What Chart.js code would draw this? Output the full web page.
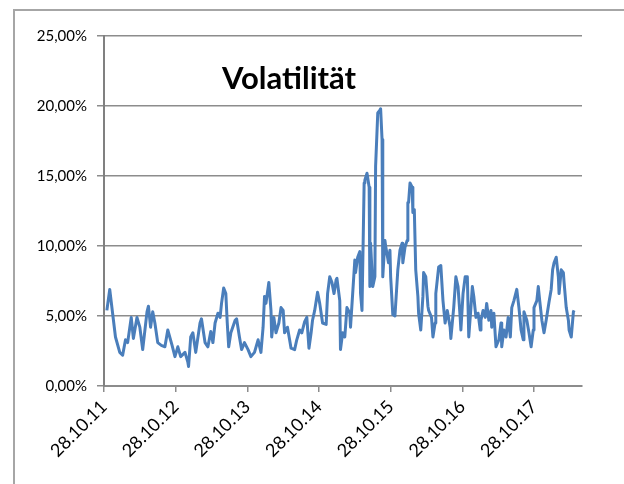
<!DOCTYPE html>
<html>
<head>
<meta charset="utf-8">
<script src="https://cdn.jsdelivr.net/npm/chart.js@4/dist/chart.umd.min.js"></script>
<style>
html,body{margin:0;padding:0;background:#fff;}
#wrap{position:relative;width:624px;height:484px;overflow:hidden;}
#frame{position:absolute;left:13px;top:9px;width:800px;height:800px;border:2px solid #a6a6a6;box-sizing:border-box;}
canvas{position:absolute;left:0;top:0;}
</style>
</head>
<body>
<div id="wrap">
<div id="frame"></div>
<canvas id="c" width="624" height="484"></canvas>
</div>
<script>
// Years since 28.10.2011
const years = [0.04,0.08,0.12,0.16,0.22,0.26,0.30,0.33,0.38,0.41,0.46,0.50,0.54,0.60,0.62,0.65,0.68,0.71,0.75,0.80,0.85,0.89,0.95,0.99,
1.03,1.07,1.13,1.17,1.18,1.21,1.24,1.28,1.34,1.36,1.41,1.45,1.49,1.52,1.55,1.59,1.62,1.64,1.67,1.70,1.72,1.74,1.77,1.83,1.85,1.89,1.92,1.96,
2.01,2.05,2.10,2.15,2.19,2.22,2.24,2.26,2.30,2.33,2.34,2.37,2.40,2.44,2.47,2.50,2.52,2.56,2.59,2.61,2.66,2.69,2.73,2.76,2.80,2.83,2.86,2.89,2.91,2.94,2.98,
3.01,3.05,3.10,3.12,3.15,3.18,3.21,3.24,3.25,3.29,3.30,3.33,3.36,3.39,3.43,3.44,3.47,3.50,3.51,3.54,3.57,3.58,3.60,3.63,3.64,3.67,3.70,3.71,3.72,3.75,3.78,3.79,3.82,3.85,3.86,3.88,3.89,3.92,3.93,3.97,3.99,
4.00,4.03,4.06,4.10,4.13,4.16,4.17,4.20,4.23,4.24,4.25,4.27,4.30,4.31,4.33,4.35,4.38,4.39,4.42,4.45,4.46,4.49,4.52,4.53,4.57,4.59,4.62,4.63,4.67,4.70,4.73,4.76,4.79,4.83,4.84,4.88,4.91,4.94,4.97,4.98,
5.01,5.04,5.07,5.09,5.12,5.14,5.16,5.19,5.22,5.25,5.26,5.29,5.32,5.34,5.37,5.40,5.41,5.44,5.47,5.51,5.54,5.55,5.58,5.61,5.64,5.67,5.69,5.72,5.76,5.79,5.82,5.85,5.86,5.90,5.93,5.96,5.99,
6.00,6.04,6.06,6.08,6.11,6.14,6.17,6.21,6.24,6.26,6.28,6.31,6.34,6.35,6.38,6.41,6.42,6.45,6.48,6.49,6.52,6.55,6.56];
// Volatility in percent
const volatility = [5.4,6.9,5.2,3.5,2.4,2.2,3.3,3.1,4.9,3.4,4.9,4.2,2.6,5.3,5.7,4.2,5.3,4.5,3.1,2.9,2.8,4.0,2.9,2.1,
2.8,2.1,2.4,1.7,1.4,3.5,3.8,2.4,4.5,4.8,3.1,2.8,3.9,3.1,4.5,5.2,4.9,5.9,7.0,6.6,4.5,2.8,3.8,4.7,4.8,3.5,2.6,3.1,
2.6,2.1,2.4,3.3,2.4,4.2,6.4,5.9,7.4,5.4,3.5,4.9,3.8,4.5,5.6,5.4,3.8,4.2,3.3,2.7,2.6,3.3,4.0,3.8,4.6,4.9,2.7,3.8,4.7,5.4,6.7,
5.9,4.5,4.4,6.6,7.8,7.4,6.6,7.6,7.7,6.1,2.6,3.8,3.5,5.6,5.2,4.2,6.6,9.0,8.1,9.2,9.6,6.6,5.4,14.5,14.7,15.2,14.2,7.1,10.2,7.1,7.8,15.7,19.5,19.7,19.8,17.6,7.8,10.4,10.0,8.8,9.7,
7.8,5.1,5.0,8.3,9.7,10.2,8.8,9.9,10.4,13.1,13.1,14.5,14.2,12.4,12.6,8.3,6.4,5.2,4.0,6.4,8.1,7.8,5.7,5.4,4.9,3.5,4.5,6.6,8.5,8.6,6.1,4.5,5.4,4.2,3.4,5.6,7.8,7.1,4.9,4.0,
6.6,7.8,7.8,3.5,5.6,7.1,6.4,4.9,5.2,4.0,4.7,5.4,4.9,5.9,4.7,5.4,4.2,5.2,2.8,3.3,4.5,2.8,4.0,3.5,4.9,3.5,5.6,6.1,6.9,5.6,4.0,3.3,5.3,4.7,3.8,2.8,4.0,
5.6,6.1,7.1,6.1,4.7,3.8,4.7,6.0,6.9,8.3,8.8,9.2,7.8,6.6,8.3,8.1,7.4,5.6,4.7,4.0,3.5,5.3,5.4];
const xTickLabels = ['28.10.11','28.10.12','28.10.13','28.10.14','28.10.15','28.10.16','28.10.17'];
const yTicks = [0,5,10,15,20,25];
const chartTitle = 'Volatilität';

const points = years.map((t,i)=>({x:t,y:volatility[i]}));
const gridGray = '#8c8c8c';

const titlePlugin = {
  id:'innerTitle',
  afterDraw(chart){
    const ctx = chart.ctx;
    ctx.save();
    ctx.font = 'bold 31px Lato, "Open Sans", sans-serif';
    ctx.fillStyle = '#000';
    ctx.textAlign = 'center';
    ctx.textBaseline = 'middle';
    ctx.fillText(chartTitle, 289, 79);
    ctx.restore();
  }
};

new Chart(document.getElementById('c'), {
  type:'line',
  data:{datasets:[{data:points,borderColor:'#4a7ebb',borderWidth:3,pointRadius:0,tension:0,fill:false,borderJoinStyle:'round'}]},
  options:{
    responsive:false,animation:false,
    layout:{padding:{top:36,right:42,left:0,bottom:0}},
    plugins:{legend:{display:false},tooltip:{enabled:false}},
    scales:{
      x:{type:'linear',min:0,max:6.67,
        afterFit(s){s.height=98;},
        afterBuildTicks(s){s.ticks = xTickLabels.map((_,i)=>({value:i}));},
        ticks:{includeBounds:false,autoSkip:false,minRotation:45,maxRotation:45,padding:4,color:'#000',
          font:{family:'Lato, "Open Sans", sans-serif',size:18},
          callback:(v)=>xTickLabels[Math.round(v)]},
        grid:{drawOnChartArea:false,drawTicks:true,tickLength:6,color:gridGray,lineWidth:1.5},
        border:{display:true,color:gridGray,width:2}
      },
      y:{min:0,max:25,
        afterFit(s){s.width=104;},
        afterBuildTicks(s){s.ticks = yTicks.map(v=>({value:v}));},
        ticks:{color:'#000',padding:10,font:{family:'Lato, "Open Sans", sans-serif',size:15},
          callback:(v)=>v.toFixed(2).replace('.',',')+'%'},
        grid:{color:gridGray,lineWidth:1.5,tickLength:7},
        border:{display:true,color:'#808080',width:2}
      }
    }
  },
  plugins:[titlePlugin]
});
</script>
</body>
</html>
